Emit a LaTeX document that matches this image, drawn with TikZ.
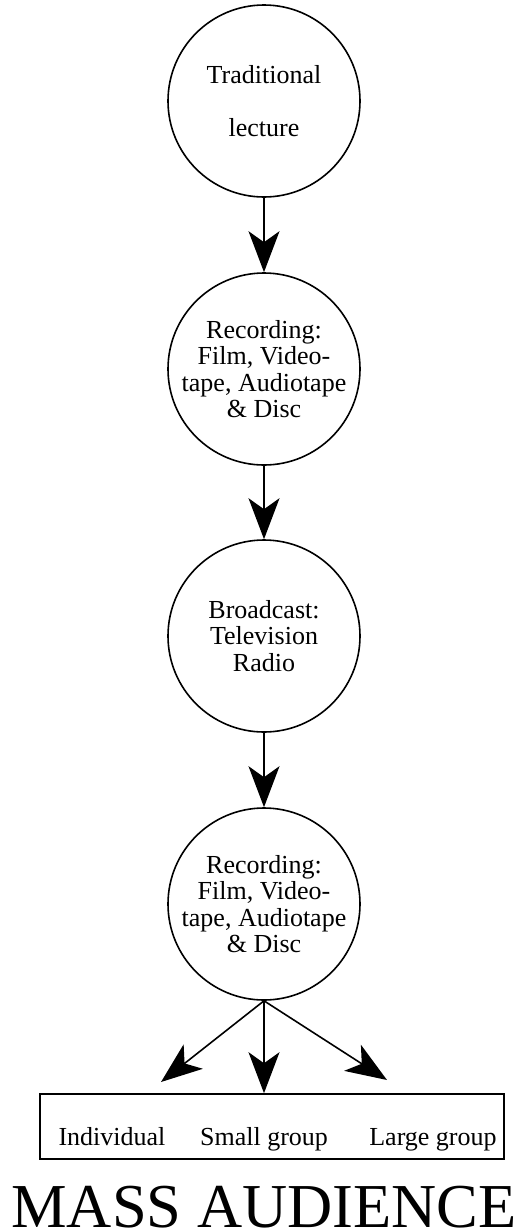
\documentclass[tikz,border=0pt]{standalone}
\usepackage{fontspec}
\setmainfont{Liberation Serif}
\usetikzlibrary{arrows.meta}
\tikzset{
  stage/.style={draw,circle,line width=1.6pt,minimum size=192pt,inner sep=0pt,
    align=center,font=\fontsize{26}{26.5}\selectfont},
  flow/.style={line width=1.6pt,-{Stealth[length=41pt,width=31pt,inset=11pt]}},
  label/.style={font=\fontsize{26}{26.5}\selectfont,inner sep=0pt,anchor=base}
}
\begin{document}
\begin{tikzpicture}[x=1pt,y=-1pt]
    \useasboundingbox (0,0) rectangle (524,1232);
    \node[stage] (lecture) at (264,101) {Traditional\\[26.5pt]lecture};
    \node[stage] (rec1) at (264,369) {Recording:\\Film, Video-\\tape, Audiotape\\\& Disc};
    \node[stage] (broadcast) at (264,636) {Broadcast:\\Television\\Radio};
    \node[stage] (rec2) at (264,904) {Recording:\\Film, Video-\\tape, Audiotape\\\& Disc};
    \draw[flow] (lecture) -- (rec1);
    \draw[flow] (rec1) -- (broadcast);
    \draw[flow] (broadcast) -- (rec2);
    % audience groups
    \node[draw,line width=1.6pt,minimum width=464pt,minimum height=65pt,inner sep=0pt] (groups) at (272,1126.5) {};
    \node[label] (indiv) at (112,1145) {Individual};
    \node[label] (small) at (264,1145) {Small group};
    \node[label] (large) at (433,1145) {Large group};
    \coordinate (lefttip) at (161,1082);
    \coordinate (righttip) at (387,1080);
    \draw[flow] (rec2.south) -- (lefttip);
    \draw[flow] (rec2.south) -- (rec2.south |- groups.north);
    \draw[flow] (rec2.south) -- (righttip);
    \node[font=\fontsize{62.5}{62.5}\selectfont,inner sep=0pt,anchor=base] (mass) at (264,1227) {MASS AUDIENCE};
\end{tikzpicture}
\end{document}
